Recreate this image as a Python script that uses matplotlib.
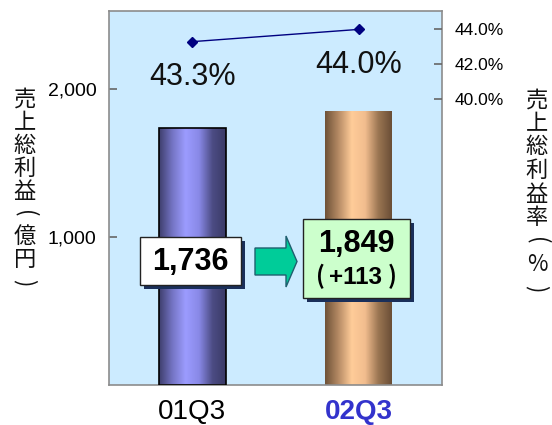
import numpy as np
import matplotlib
matplotlib.use("Agg")
import matplotlib.pyplot as plt
from matplotlib.patches import Rectangle, Polygon
from matplotlib.colors import LinearSegmentedColormap

# ---- data ----
categories = ["01Q3", "02Q3"]
gross_profit = [1736, 1849]          # 億円
margin_pct = [43.3, 44.0]            # %
left_ticks = [1000, 2000]
left_ticklabels = ["1,000", "2,000"]
right_ticks = [40.0, 42.0, 44.0]
right_ticklabels = ["40.0%", "42.0%", "44.0%"]
box1_text = "1,736"
box2_text = "1,849"
box2_diff = "+113"
left_label = "売上総利益（億円）"
right_label = "売上総利益率（%）"

W, H = 552, 425
fig = plt.figure(figsize=(W / 100, H / 100), dpi=100)
fig.patch.set_facecolor("white")

AX_L, AX_R, AX_T, AX_B = 109, 442, 11, 385
ax = fig.add_axes([AX_L / W, 1 - AX_B / H, (AX_R - AX_L) / W, (AX_B - AX_T) / H])
ax.set_facecolor("#CCEBFF")
for s in ax.spines.values():
    s.set_color("#8c8c8c")
    s.set_linewidth(1.2)

x = np.arange(len(categories))

bar_w = 0.40
cmaps = [
    LinearSegmentedColormap.from_list("b", ["#3e3e6c", "#7474c4", "#9c9cff", "#8888e6", "#4c4c84", "#3a3a66"]),
    LinearSegmentedColormap.from_list("o", ["#6e5238", "#b58a64", "#ffcc99", "#f2bd8e", "#9a7552", "#6a4e36"]),
]
edgecols = ["#000000", "none"]
grad = np.linspace(0, 1, 256).reshape(1, -1)
for i, (xi, v) in enumerate(zip(x, gross_profit)):
    b = ax.bar(xi, v, width=bar_w, color="none", edgecolor=edgecols[i], linewidth=1.2, zorder=3)[0]
    im = ax.imshow(grad, cmap=cmaps[i], aspect="auto",
                   extent=(xi - bar_w / 2, xi + bar_w / 2, 0, v), zorder=2)
    im.set_clip_path(b)
ax.set_xlim(-0.5, 1.5)
ax.set_ylim(0, 2525)

ax.set_yticks(left_ticks)
ax.set_yticklabels(left_ticklabels, fontsize=14, family="Liberation Sans")
ax.tick_params(axis="y", direction="in", length=6, width=1.2, color="#666666", pad=9)
ax.set_xticks(x)
ax.set_xticklabels(categories, fontsize=20, family="Liberation Sans")
ax.tick_params(axis="x", length=0, pad=10)
xl = ax.get_xticklabels()
xl[1].set_color("#3333CC")
xl[1].set_fontweight("bold")

# ---- secondary axis ----
ax2 = ax.twinx()
ax2.set_ylim(23.7, 45.05)
ax2.plot(x, margin_pct, color="#000080", lw=1.0, marker="D", ms=5, zorder=5)
ax2.set_yticks(right_ticks)
ax2.set_yticklabels(right_ticklabels, fontsize=12.5, family="Liberation Sans")
ax2.tick_params(axis="y", direction="in", length=6, width=1.2, color="#666666", pad=9)
for s in ax2.spines.values():
    s.set_visible(False)
for xi, m in zip(x, margin_pct):
    ax2.annotate(f"{m:.1f}%", (xi, m), xytext=(0, -25.5), textcoords="offset points",
                 ha="center", va="center", fontsize=22, family="Liberation Sans", color="#111111")

# ---- annotation shapes (pixel layout -> axes fraction) ----
def fx(px):
    return (px - AX_L) / (AX_R - AX_L)

def fy(py):
    return (AX_B - py) / (AX_B - AX_T)

def box(x0, y0, x1, y1, fc):
    sh = 4
    ax2.add_patch(Rectangle((fx(x0 + sh), fy(y1 + sh)), fx(x1) - fx(x0), fy(y0) - fy(y1),
                            transform=ax2.transAxes, fc="#1a2f5a", ec="none", zorder=8))
    ax2.add_patch(Rectangle((fx(x0), fy(y1)), fx(x1) - fx(x0), fy(y0) - fy(y1),
                            transform=ax2.transAxes, fc=fc, ec="#222222", lw=1.0, zorder=9))

box(140, 237, 241, 285, "white")
ax2.text(fx(190.5), fy(262), box1_text, transform=ax2.transAxes, ha="center", va="center",
         fontsize=22, fontweight="bold", family="Liberation Sans", zorder=10)

box(303, 219, 410, 298, "#CCFFCC")
ax2.text(fx(356.5), fy(244), box2_text, transform=ax2.transAxes, ha="center", va="center",
         fontsize=22, fontweight="bold", family="Liberation Sans", zorder=10)
ax2.text(fx(356), fy(277), box2_diff, transform=ax2.transAxes, ha="center", va="center",
         fontsize=17.5, fontweight="bold", family="Liberation Sans", zorder=10)
for px, ch in ((320.5, "("), (392, ")")):
    ax2.text(fx(px), fy(276), ch, transform=ax2.transAxes, ha="center", va="center",
             fontsize=17, fontweight="bold", family="Noto Sans CJK JP", zorder=10)

arrow_px = [(255, 248), (286, 248), (286, 236), (297, 261.5), (286, 287), (286, 275), (255, 275)]
ax2.add_patch(Polygon([(fx(a), fy(b)) for a, b in arrow_px], closed=True, transform=ax2.transAxes,
                      fc="#00CC99", ec="#1f5f6f", lw=1.0, zorder=9))

# ---- vertical Japanese axis titles ----
def vtext(cx, top, bottom, s):
    n = len(s)
    step = (bottom - top) / n
    for i, ch in enumerate(s):
        cy = top + step * (i + 0.5)
        rot = 0
        if ch in "（）":
            ch = "(" if ch == "（" else ")"
            rot = -90
        fig.text(cx / W, 1 - cy / H, ch, ha="center", va="center", fontsize=16, rotation=rot,
                 family=["Noto Sans CJK JP", "DejaVu Sans"], color="#111111")

vtext(25, 88, 294, left_label)
vtext(537, 88, 300, right_label)

fig.savefig("out.png", dpi=100, facecolor="white")
